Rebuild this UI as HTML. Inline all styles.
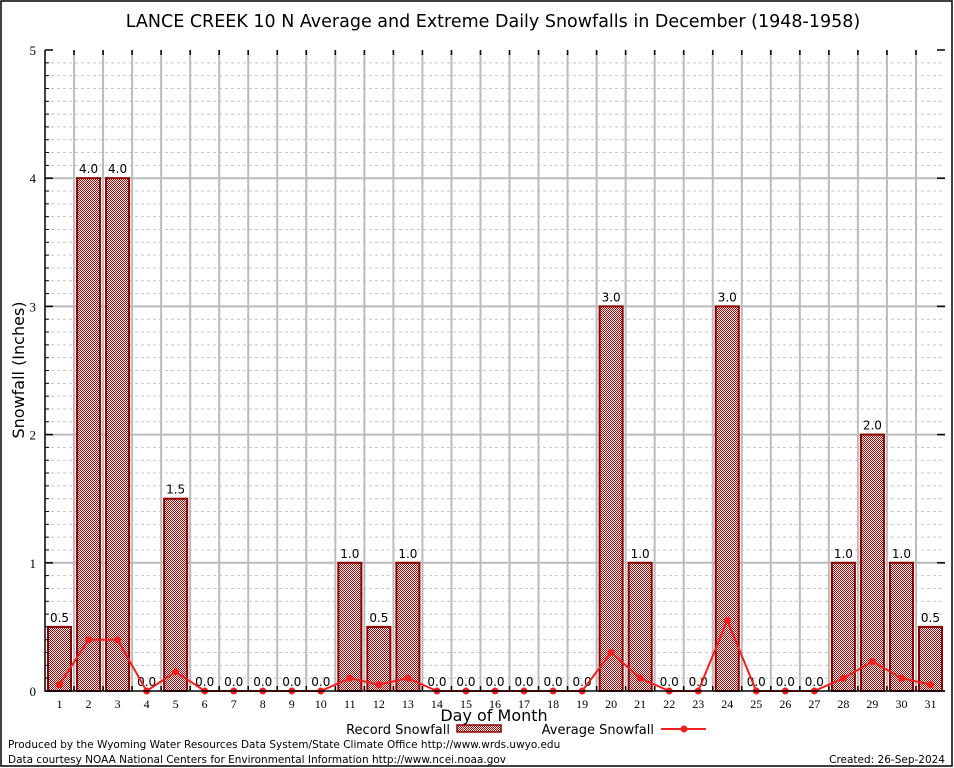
<!DOCTYPE html>
<html><head><meta charset="utf-8"><style>
body{margin:0;background:#fff}
svg{display:block;font-family:"DejaVu Sans","Liberation Sans",sans-serif}
</style></head><body>
<svg id="c" width="954" height="768" viewBox="0 0 954 768">
<defs><pattern id="chk" width="2" height="2" patternUnits="userSpaceOnUse"><rect width="2" height="2" fill="#fff"/><rect width="1" height="1" fill="#b00000"/><rect x="1" y="1" width="1" height="1" fill="#b00000"/></pattern></defs>
<rect x="1" y="1" width="951" height="765" fill="#fff" stroke="#000" stroke-width="1.5"/>
<text x="493" y="27" font-size="17.5" text-anchor="middle">LANCE CREEK 10 N Average and Extreme Daily Snowfalls in December (1948-1958)</text>
<g id="grid"></g><g id="bars"></g><g id="line"></g><g id="axes"></g>
<text x="24" y="370" font-size="16" text-anchor="middle" transform="rotate(-90 24 370)">Snowfall (Inches)</text>
<text x="494" y="721" font-size="16" text-anchor="middle">Day of Month</text>
<g><text x="450" y="734" font-size="13" text-anchor="end">Record Snowfall</text><rect x="457" y="725" width="44" height="7" fill="url(#chk)" stroke="#8b0000" stroke-width="1.5"/></g>
<g><text x="654" y="734" font-size="13" text-anchor="end">Average Snowfall</text><line x1="661" y1="729" x2="706" y2="729" stroke="#f02020" stroke-width="2"/><circle cx="684" cy="729" r="3.5" fill="#f02020"/></g>
<text x="8" y="748" font-size="10.5">Produced by the Wyoming Water Resources Data System/State Climate Office http://www.wrds.uwyo.edu</text>
<text x="8" y="763" font-size="10.5">Data courtesy NOAA National Centers for Environmental Information http://www.ncei.noaa.gov</text>
<text x="945" y="763" font-size="10.5" text-anchor="end">Created: 26-Sep-2024</text>
</svg>
<script>
const days=[1,2,3,4,5,6,7,8,9,10,11,12,13,14,15,16,17,18,19,20,21,22,23,24,25,26,27,28,29,30,31];
const recordSnow=[0.5,4,4,0,1.5,0,0,0,0,0,1,0.5,1,0,0,0,0,0,0,3,1,0,0,3,0,0,0,1,2,1,0.5];
const avgSnow=[0.05,0.4,0.4,0,0.15,0,0,0,0,0,0.1,0.05,0.1,0,0,0,0,0,0,0.3,0.1,0,0,0.55,0,0,0,0.1,0.23,0.1,0.05];
const yTicks=[0,1,2,3,4,5];
const NS='http://www.w3.org/2000/svg';
const L=45,R=945,T=50,B=691,yMax=5;
const bw=(R-L)/days.length;
const xs=d=>L+(d-0.5)*bw;
const ys=v=>B-v/yMax*(B-T);
function mk(p,tag,a,txt){const e=document.createElementNS(NS,tag);for(const k in a)e.setAttribute(k,a[k]);if(txt!==undefined)e.textContent=txt;document.getElementById(p).appendChild(e);return e;}
for(let i=1;i<yMax*10;i++){if(i%10===0)continue;
const g=mk('grid','line',{x1:L,x2:R,y1:ys(i/10),y2:ys(i/10),stroke:'#c4c4c4','stroke-dasharray':'3,3','stroke-width':1});

}
yTicks.forEach(t=>{if(t>0&&t<yMax){const g=mk('grid','line',{x1:L,x2:R,y1:ys(t),y2:ys(t),stroke:'#bbb','stroke-width':2});

}});
for(let i=1;i<days.length;i++){const g=mk('grid','line',{x1:L+i*bw,x2:L+i*bw,y1:T,y2:B,stroke:'#bbb','stroke-width':2});

}
days.forEach((d,i)=>{const v=recordSnow[i];
if(v>0){const r=mk('bars','rect',{x:xs(d)-11.5,y:ys(v),width:23,height:B-ys(v),fill:'url(#chk)',stroke:'#8b0000','stroke-width':2});

}
const t=mk('bars','text',{x:xs(d),y:ys(v)-5,'font-size':12,'text-anchor':'middle'},v.toFixed(1));

});
const pl=mk('line','polyline',{points:days.map((d,i)=>xs(d)+','+ys(avgSnow[i])).join(' '),fill:'none',stroke:'#f02020','stroke-width':2});


days.forEach((d,i)=>{const c=mk('line','circle',{cx:xs(d),cy:ys(avgSnow[i]),r:3.5,fill:'#f02020'});

});
const ax=mk('axes','path',{d:`M${L} ${T}V${B}H${R}`,fill:'none',stroke:'#000','stroke-width':1.5});


yTicks.forEach(t=>{mk('axes','line',{x1:L,x2:L+8,y1:ys(t),y2:ys(t),stroke:'#000','stroke-width':1.5});mk('axes','line',{x1:R-8,x2:R,y1:ys(t),y2:ys(t),stroke:'#000','stroke-width':1.5});
const tx=mk('axes','text',{x:36,y:ys(t)+5,'font-size':13,'text-anchor':'end','font-family':'Liberation Serif,serif'},t);

});
for(let i=1;i<yMax*10;i++){if(i%10)mk('axes','line',{x1:L,x2:L+4,y1:ys(i/10),y2:ys(i/10),stroke:'#000'});}
for(let i=1;i<days.length;i++){mk('axes','line',{x1:L+i*bw,x2:L+i*bw,y1:B,y2:B-5,stroke:'#000','stroke-width':1.5});mk('axes','line',{x1:L+i*bw,x2:L+i*bw,y1:T,y2:T+5,stroke:'#000','stroke-width':1.5});}
days.forEach(d=>{const tx=mk('axes','text',{x:xs(d),y:708,'font-size':12,'text-anchor':'middle','font-family':'Liberation Serif,serif'},d);

});
</script>
</body></html>
